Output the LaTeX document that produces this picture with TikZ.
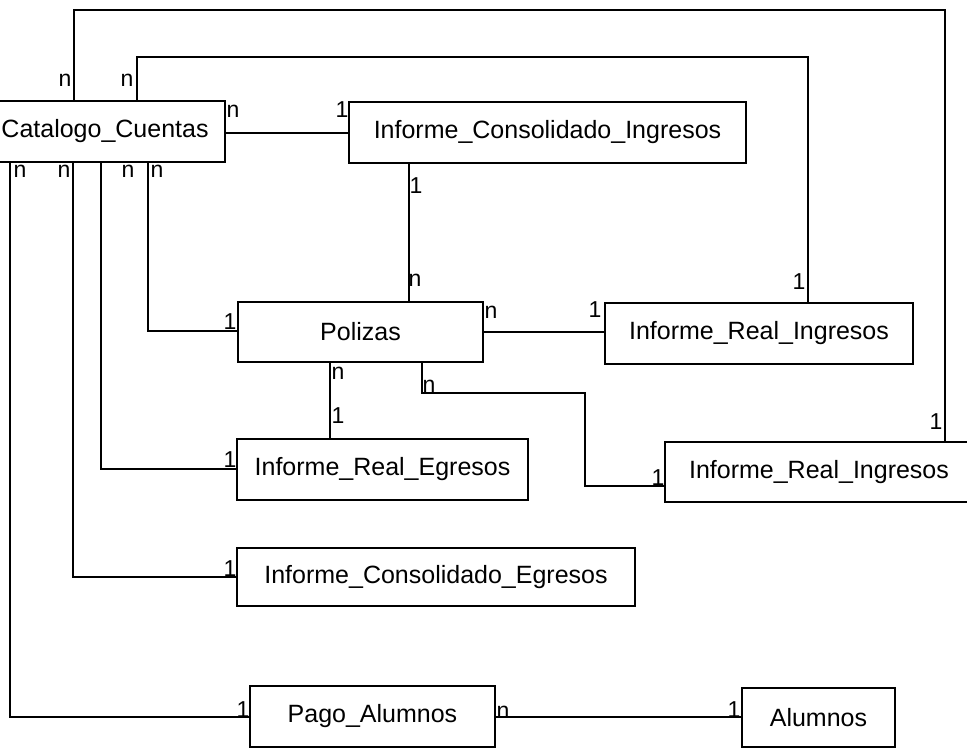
\documentclass[tikz,border=0pt]{standalone}
\usepackage{fontspec}
\setmainfont{Liberation Sans}
\newcommand\boxfont{\fontsize{25}{30}\selectfont}
\newcommand\lblfont{\fontsize{23}{28}\selectfont}
\begin{document}
\begin{tikzpicture}[x=1pt,y=-1pt,
  box/.style={draw, rectangle, line width=1.6pt, inner sep=0pt, font=\boxfont},
  lbl/.style={inner sep=0pt, font=\lblfont},
  conn/.style={line width=1.6pt}]
\useasboundingbox (0,0) rectangle (967,749);
\fill[white] (0,0) rectangle (967,749);
\clip (0,0) rectangle (967,749);
% entities
\node[box, minimum width=240pt, minimum height=61pt] (cat) at (105,131.5) {Catalogo\_Cuentas};
\node[box, minimum width=397pt, minimum height=61pt] (ici) at (547.5,132.5) {Informe\_Consolidado\_Ingresos};
\node[box, minimum width=245pt, minimum height=60pt] (pol) at (360.5,332) {Polizas};
\node[box, minimum width=308pt, minimum height=61pt] (iri1) at (759,333.5) {Informe\_Real\_Ingresos};
\node[box, minimum width=291pt, minimum height=61pt] (ire) at (382.5,469.5) {Informe\_Real\_Egresos};
\node[box, minimum width=308pt, minimum height=60pt] (iri2) at (819,472) {Informe\_Real\_Ingresos};
\node[box, minimum width=398pt, minimum height=58pt] (ice) at (436,577) {Informe\_Consolidado\_Egresos};
\node[box, minimum width=245pt, minimum height=61pt] (pago) at (372.5,716.5) {Pago\_Alumnos};
\node[box, minimum width=153pt, minimum height=59pt] (alu) at (818.5,717.5) {Alumnos};
% connectors
\draw[conn] (cat.north -| 74,0) |- (945,10) -- (iri2.north -| 945,0);
\draw[conn] (cat.north -| 137,0) |- (808,57) -- (iri1.north -| 808,0);
\draw[conn] (cat.east |- 0,133) -- (ici.west |- 0,133);
\draw[conn] (ici.south -| 409,0) -- (pol.north -| 409,0);
\draw[conn] (cat.south -| 148,0) |- (pol.west |- 0,331);
\draw[conn] (pol.east |- 0,332) -- (iri1.west |- 0,332);
\draw[conn] (pol.south -| 330,0) -- (ire.north -| 330,0);
\draw[conn] (pol.south -| 422,0) |- (585,393) |- (iri2.west |- 0,486);
\draw[conn] (cat.south -| 101,0) |- (ire.west |- 0,469);
\draw[conn] (cat.south -| 73,0) |- (ice.west |- 0,577);
\draw[conn] (cat.south -| 10,0) |- (pago.west |- 0,717);
\draw[conn] (pago.east |- 0,717) -- (alu.west |- 0,717);
% cardinality labels
\node[lbl] (l1) at (65,80) {n};
\node[lbl] (l2) at (127,80) {n};
\node[lbl] (l3) at (233,111) {n};
\node[lbl] (l4) at (342,110) {1};
\node[lbl] (l5) at (20,171) {n};
\node[lbl] (l6) at (64,171) {n};
\node[lbl] (l7) at (128,171) {n};
\node[lbl] (l8) at (157,171) {n};
\node[lbl] (l9) at (416,186) {1};
\node[lbl] (l10) at (415,280) {n};
\node[lbl] (l11) at (230,322) {1};
\node[lbl] (l12) at (491,312) {n};
\node[lbl] (l13) at (338,373) {n};
\node[lbl] (l14) at (338,416) {1};
\node[lbl] (l15) at (429,386) {n};
\node[lbl] (l16) at (230,460) {1};
\node[lbl] (l17) at (230,569) {1};
\node[lbl] (l18) at (799,282) {1};
\node[lbl] (l19) at (595,310) {1};
\node[lbl] (l20) at (936,422) {1};
\node[lbl] (l21) at (658,478) {1};
\node[lbl] (l22) at (243,710) {1};
\node[lbl] (l23) at (503,712) {n};
\node[lbl] (l24) at (734,710) {1};
\end{tikzpicture}
\end{document}
